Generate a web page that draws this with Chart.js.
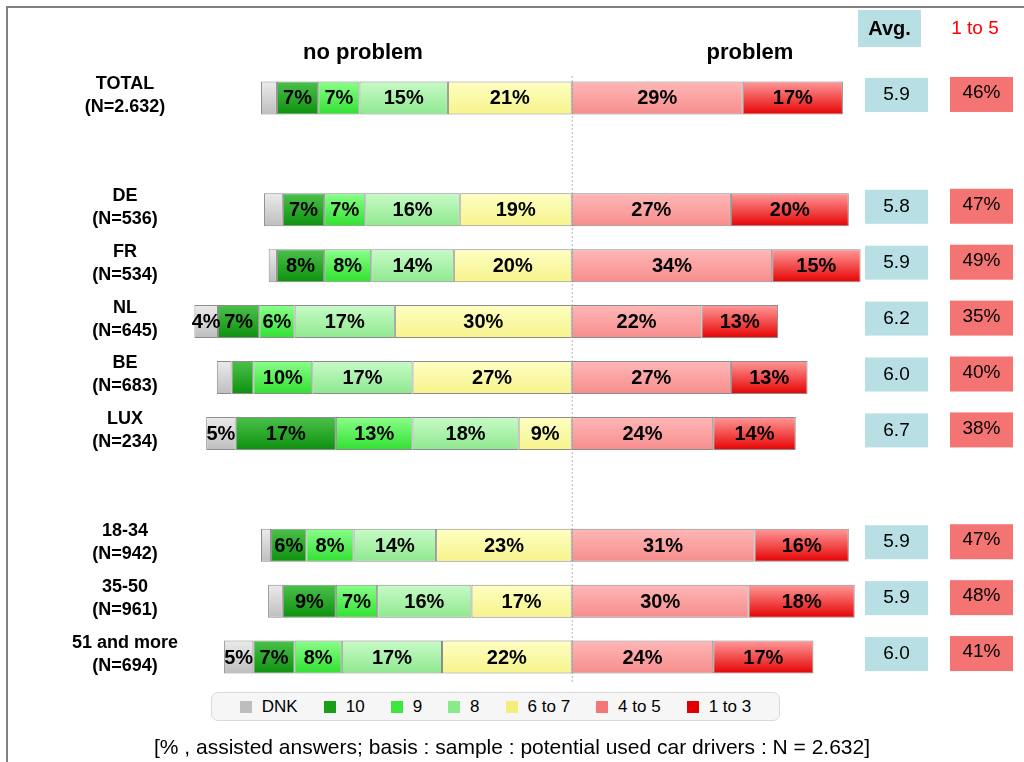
<!DOCTYPE html>
<html>
<head>
<meta charset="utf-8">
<script src="https://cdn.jsdelivr.net/npm/chart.js@4.4.1/dist/chart.umd.min.js"></script>
<style>
  html, body { margin: 0; padding: 0; background: #ffffff; }
  #wrap { position: relative; width: 1024px; height: 762px; overflow: hidden; font-family: "Liberation Sans", Arial, sans-serif; }
  #frame { position: absolute; left: 6px; top: 6px; width: 1040px; height: 800px; border: 2px solid #808080; box-sizing: border-box; }
  canvas { position: absolute; left: 0; top: 0; }
  #legend { position: absolute; left: 211px; top: 692px; width: 569px; height: 29px; box-sizing: border-box;
            border: 1px solid #d9d9d9; border-radius: 7px; background: #f6f6f6;
            display: flex; align-items: center; justify-content: center; font-size: 17px; color: #000; white-space: nowrap; }
  #legend .item { display: flex; align-items: center; margin: 0 13px; white-space: nowrap; }
  #legend .sw { width: 12px; height: 12px; margin-right: 10px; flex: none; }
  #note { position: absolute; left: 0; width: 1024px; top: 735px; text-align: center; font-size: 21px; color: #000; white-space: nowrap; }
</style>
</head>
<body>
<div id="wrap">
  <div id="frame"></div>
  <canvas id="c" width="1024" height="762"></canvas>
  <div id="legend"></div>
  <div id="note">[% , assisted answers; basis : sample : potential used car drivers : N = 2.632]</div>
</div>
<script>
// Rows (blank entries are spacer rows between the groups)
const rowNames   = ['TOTAL', '', 'DE', 'FR', 'NL', 'BE', 'LUX', '', '18-34', '35-50', '51 and more'];
const rowSizes   = ['2.632', '', '536', '534', '645', '683', '234', '', '942', '961', '694'];

// Shares in % per answer group
const dnk        = [2.7, null, 3.2, 1.4, 4, 2.5, 5, null, 1.7, 2.5, 5];
const score10    = [7, null, 7, 8, 7, 3.7, 17, null, 6, 9, 7];
const score9     = [7, null, 7, 8, 6, 10, 13, null, 8, 7, 8];
const score8     = [15, null, 16, 14, 17, 17, 18, null, 14, 16, 17];
const score6to7  = [21, null, 19, 20, 30, 27, 9, null, 23, 17, 22];
const score4to5  = [29, null, 27, 34, 22, 27, 24, null, 31, 30, 24];
const score1to3  = [17, null, 20, 15, 13, 13, 14, null, 16, 18, 17];

// Average score per row
const avgScore   = [5.9, null, 5.8, 5.9, 6.2, 6.0, 6.7, null, 5.9, 5.9, 6.0];

// Legend names
const groupNames = ['DNK', '10', '9', '8', '6 to 7', '4 to 5', '1 to 3'];

const FONT = '"Liberation Sans", Arial, sans-serif';
const neg = arr => arr.map(v => v == null ? null : -v);

// vertical gradient per bar segment
function grad(top, bottom) {
  return function (ctx) {
    const chart = ctx.chart;
    const ys = chart.scales && chart.scales.y;
    if (!chart.chartArea || !ys || ctx.dataIndex == null) return bottom;
    const yc = ys.getPixelForValue(ctx.dataIndex);
    const g = chart.ctx.createLinearGradient(0, yc - 17, 0, yc + 17);
    g.addColorStop(0, top);
    g.addColorStop(1, bottom);
    return g;
  };
}

const styles = {
  'DNK':    { top: '#ececec', bottom: '#bdbdbd', swatch: '#bdbdbd' },
  '10':     { top: '#4cc24c', bottom: '#0c900c', swatch: '#1a9e1a' },
  '9':      { top: '#8cff8c', bottom: '#2fe02f', swatch: '#3de83d' },
  '8':      { top: '#c9fbc9', bottom: '#8ee88e', swatch: '#88ea88' },
  '6 to 7': { top: '#ffffc4', bottom: '#f6f38a', swatch: '#f4ef7c' },
  '4 to 5': { top: '#ffb8b8', bottom: '#f78c8c', swatch: '#f27878' },
  '1 to 3': { top: '#ff9c9c', bottom: '#e60000', swatch: '#e00000' }
};

function ds(name, values) {
  const s = styles[name];
  return {
    label: name,
    data: values,
    backgroundColor: grad(s.top, s.bottom),
    borderColor: '#8c8c8c',
    borderWidth: 1,
    borderSkipped: false,
    stack: 'all'
  };
}

// Negative side stacks outward from the centre: 6 to 7, 8, 9, 10, DNK
const datasets = [
  ds('6 to 7', neg(score6to7)),
  ds('8', neg(score8)),
  ds('9', neg(score9)),
  ds('10', neg(score10)),
  ds('DNK', neg(dnk)),
  ds('4 to 5', score4to5),
  ds('1 to 3', score1to3)
];

const sideTexts = {
  id: 'sideTexts',
  beforeDatasetsDraw(chart) {
    const ctx = chart.ctx;
    const x0 = chart.scales.x.getPixelForValue(0);
    ctx.save();
    ctx.strokeStyle = '#b4b4b4';
    ctx.lineWidth = 1;
    ctx.setLineDash([2, 2]);
    ctx.beginPath();
    ctx.moveTo(x0 + 0.5, 76);
    ctx.lineTo(x0 + 0.5, 682);
    ctx.stroke();
    ctx.restore();
  },
  afterDatasetsDraw(chart) {
    const ctx = chart.ctx;
    const ys = chart.scales.y;
    ctx.save();

    // segment values
    ctx.fillStyle = '#000';
    ctx.font = 'bold 20px ' + FONT;
    ctx.textAlign = 'center';
    ctx.textBaseline = 'middle';
    chart.data.datasets.forEach((d, di) => {
      const meta = chart.getDatasetMeta(di);
      meta.data.forEach((el, i) => {
        const v = d.data[i];
        if (v == null || Math.abs(v) < 4) return;
        const p = el.getProps(['x', 'base', 'y'], true);
        ctx.fillText(Math.round(Math.abs(v)) + '%', (p.x + p.base) / 2, p.y + 1);
      });
    });

    // headings
    ctx.font = 'bold 22px ' + FONT;
    ctx.fillText('no problem', 363, 53);
    ctx.fillText('problem', 750, 53);

    ctx.fillStyle = '#b7dfe4';
    ctx.fillRect(858, 10, 63, 37);
    ctx.fillStyle = '#000';
    ctx.font = 'bold 20px ' + FONT;
    ctx.fillText('Avg.', 889.5, 29);
    ctx.fillStyle = '#ff0000';
    ctx.font = '19px ' + FONT;
    ctx.fillText('1 to 5', 975, 29);

    rowNames.forEach((name, i) => {
      if (!name) return;
      const y = ys.getPixelForValue(i);
      // row labels
      ctx.fillStyle = '#000';
      ctx.font = 'bold 18px ' + FONT;
      ctx.fillText(name, 125, y - 14);
      ctx.fillText('(N=' + rowSizes[i] + ')', 125, y + 9);
      // average box
      ctx.fillStyle = '#b7dfe4';
      ctx.fillRect(865, y - 20, 63, 34);
      ctx.fillStyle = '#000';
      ctx.font = '19px ' + FONT;
      ctx.fillText(avgScore[i].toFixed(1), 896.5, y - 3);
      // share of scores 1 to 5
      const low = score4to5[i] + score1to3[i];
      ctx.fillStyle = '#f47474';
      ctx.fillRect(950, y - 21, 63, 35);
      ctx.fillStyle = '#000';
      ctx.fillText(low + '%', 981.5, y - 5);
    });
    ctx.restore();
  }
};

new Chart(document.getElementById('c'), {
  type: 'bar',
  data: { labels: rowNames, datasets },
  options: {
    indexAxis: 'y',
    responsive: false,
    animation: false,
    events: [],
    layout: { padding: { left: 188.5, right: 157.5, top: 70, bottom: 77 } },
    datasets: { bar: { categoryPercentage: 1, barPercentage: 0.59 } },
    scales: {
      x: { stacked: true, min: -65, max: 50, display: false },
      y: { stacked: true, display: false }
    },
    plugins: { legend: { display: false }, tooltip: { enabled: false } }
  },
  plugins: [sideTexts]
});

// legend row
const legend = document.getElementById('legend');
groupNames.forEach(name => {
  const item = document.createElement('div');
  item.className = 'item';
  const sw = document.createElement('span');
  sw.className = 'sw';
  sw.style.background = styles[name].swatch;
  const t = document.createElement('span');
  t.textContent = name;
  item.appendChild(sw);
  item.appendChild(t);
  legend.appendChild(item);
});
</script>
</body>
</html>
